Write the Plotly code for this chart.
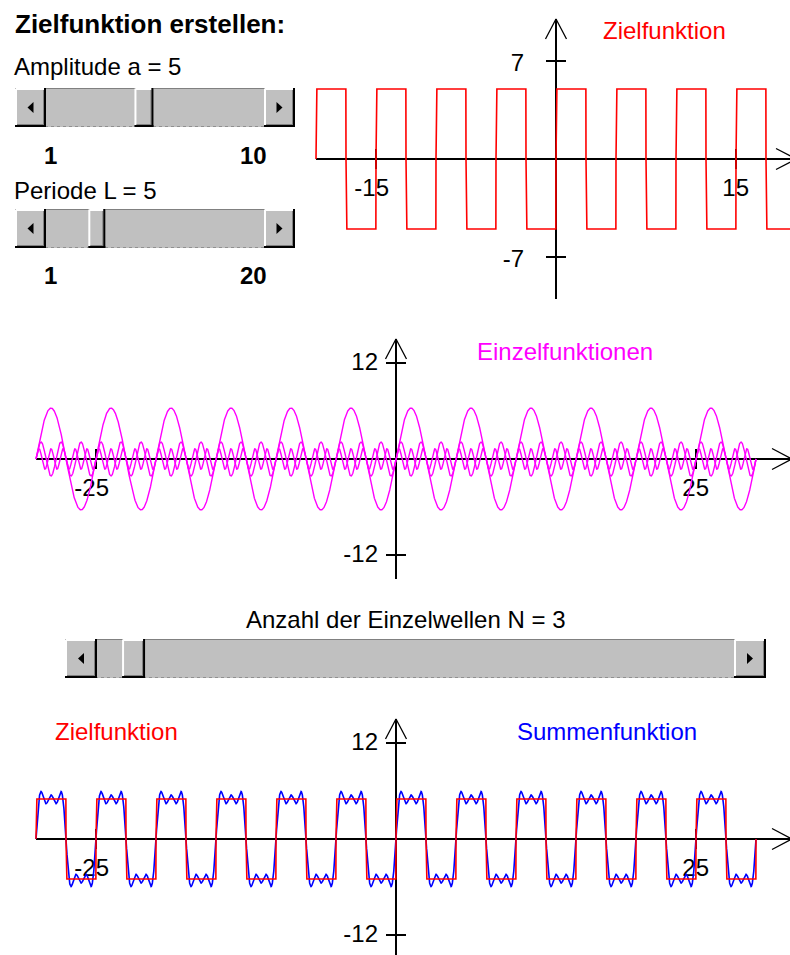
import numpy as np
import plotly.graph_objects as go

W, H = 790, 955

# ---------------- data ----------------
amplitude = 5
amplitude_limits = [1, 10]
period = 5
period_limits = [1, 20]
n_waves = 3
n_limits = [1, 50]

target_x_span = [-20, 20]      # x extent of the top "Zielfunktion" plot
wave_x_span = [-30, 30]        # x extent of the lower two plots
top_x_ticks = [-15, 15]
top_y_ticks = [-7, 7]
mid_x_ticks = [-25, 25]
mid_y_ticks = [-12, 12]
bot_x_ticks = [-25, 25]
bot_y_ticks = [-12, 12]

title_text = "Zielfunktion erstellen:"
amp_label = "Amplitude a = %d" % amplitude
per_label = "Periode L = %d" % period
n_label = "Anzahl der Einzelwellen N = %d" % n_waves

FONT = "Liberation Sans, Arial, sans-serif"
RED, MAG, BLUE = "#ff0000", "#ff00ff", "#0000ff"


def square(x):
    s = np.sin(2 * np.pi * x / period)
    s = np.where(np.abs(s) < 1e-9, 0.0, s)
    return amplitude * np.sign(s)


def harmonic(x, k):
    n = 2 * k - 1
    return 4 * amplitude / (np.pi * n) * np.sin(2 * np.pi * n * x / period)


def grid(span):
    return np.linspace(span[0], span[1], int(round((span[1] - span[0]) * 96)) + 1)


# panel geometry: pixel origin, pixel/unit scales, pixel box
panels = {
    "top": dict(xa="x", ya="y", ox=556, oy=159, sx=12, sy=14, box=(300, 8, 790, 308)),
    "mid": dict(xa="x2", ya="y2", ox=396, oy=459, sx=12, sy=8, box=(0, 330, 790, 595)),
    "bot": dict(xa="x3", ya="y3", ox=396, oy=839, sx=12, sy=8, box=(0, 700, 790, 955)),
}

fig = go.Figure()
layout_axes = {}
for i, key in enumerate(["top", "mid", "bot"]):
    p = panels[key]
    x0, y0, x1, y1 = p["box"]
    sfx = "" if i == 0 else str(i + 1)
    layout_axes["xaxis" + sfx] = dict(domain=[x0 / W, x1 / W],
                                      range=[(x0 - p["ox"]) / p["sx"], (x1 - p["ox"]) / p["sx"]],
                                      visible=False, fixedrange=True,
                                      anchor="y" + sfx)
    layout_axes["yaxis" + sfx] = dict(domain=[1 - y1 / H, 1 - y0 / H],
                                      range=[(p["oy"] - y1) / p["sy"], (p["oy"] - y0) / p["sy"]],
                                      visible=False, fixedrange=True,
                                      anchor="x" + sfx)


def add_axes(p, x_start, x_tip, y_bottom, y_tip, xticks, yticks, ylab_off, ylab_shift):
    sx, sy = p["sx"], p["sy"]
    th = 10
    xs = [x_start, x_tip, None, 0, 0, None]
    ys = [0, 0, None, y_bottom, y_tip, None]
    for t in xticks:
        xs += [t, t, None]
        ys += [-th / sy, th / sy, None]
    for t in yticks:
        xs += [-th / sx, th / sx, None]
        ys += [t, t, None]
    fig.add_trace(go.Scatter(x=xs, y=ys, mode="lines", xaxis=p["xa"], yaxis=p["ya"],
                             line=dict(color="black", width=2), hoverinfo="skip"))
    ah, al = 10.5, 20
    axs = [-ah / sx, 0, ah / sx, None, x_tip - al / sx, x_tip, x_tip - al / sx]
    ays = [y_tip - al / sy, y_tip, y_tip - al / sy, None, ah / sy, 0, -ah / sy]
    fig.add_trace(go.Scatter(x=axs, y=ays, mode="lines", xaxis=p["xa"], yaxis=p["ya"],
                             line=dict(color="black", width=1.3), hoverinfo="skip"))
    # tick labels as text traces (so curves can draw over them)
    lx = [t + 13 / sx for t in xticks] + [-ylab_off / sx for _ in yticks]
    ly = [-31 / sy for _ in xticks] + [t - ylab_shift / sy for t in yticks]
    lt = [str(t) for t in xticks] + [str(t) for t in yticks]
    fig.add_trace(go.Scatter(x=lx, y=ly, text=lt, mode="text", textposition="middle left",
                             textfont=dict(family=FONT, size=24, color="black"),
                             xaxis=p["xa"], yaxis=p["ya"], cliponaxis=False, hoverinfo="skip"))


# ---- top panel: Zielfunktion ----
pt = panels["top"]
add_axes(pt, target_x_span[0], 20, -10, 10, top_x_ticks, top_y_ticks, 32, 4)
xt = grid(target_x_span)
fig.add_trace(go.Scatter(x=xt, y=square(xt), mode="lines", xaxis="x", yaxis="y",
                         line=dict(color=RED, width=1.6), hoverinfo="skip"))

# ---- middle panel: Einzelfunktionen ----
pm = panels["mid"]
add_axes(pm, wave_x_span[0], 33, -15, 15, mid_x_ticks, mid_y_ticks, 18, 1)
xw = grid(wave_x_span)
for k in range(1, n_waves + 1):
    fig.add_trace(go.Scatter(x=xw, y=harmonic(xw, k), mode="lines", xaxis="x2", yaxis="y2",
                             line=dict(color=MAG, width=1.4), hoverinfo="skip"))

# ---- bottom panel: Summenfunktion + Zielfunktion ----
pb = panels["bot"]
add_axes(pb, wave_x_span[0], 33, -15, 15, bot_x_ticks, bot_y_ticks, 18, 1)
total = sum(harmonic(xw, k) for k in range(1, n_waves + 1))
fig.add_trace(go.Scatter(x=xw, y=total, mode="lines", xaxis="x3", yaxis="y3",
                         line=dict(color=BLUE, width=1.6), hoverinfo="skip"))
fig.add_trace(go.Scatter(x=xw, y=square(xw), mode="lines", xaxis="x3", yaxis="y3",
                         line=dict(color=RED, width=1.6), hoverinfo="skip"))

# ---------------- scrollbars (drawn as shapes) ----------------
shapes = []


def P(x):
    return x / W


def Q(y):
    return 1 - y / H


def rect(x0, y0, x1, y1, fill):
    shapes.append(dict(type="rect", xref="paper", yref="paper", x0=P(x0), x1=P(x1),
                       y0=Q(y1), y1=Q(y0), fillcolor=fill, line=dict(width=0), layer="above"))


def seg(x0, y0, x1, y1, color, w, dash="solid"):
    shapes.append(dict(type="line", xref="paper", yref="paper", x0=P(x0), x1=P(x1),
                       y0=Q(y0), y1=Q(y1), line=dict(color=color, width=w, dash=dash),
                       layer="above"))


def bevel(x0, y0, x1, y1):
    rect(x0, y0, x1, y1, "#c0c0c0")
    seg(x0 + 1, y0 + 1, x1 - 2, y0 + 1, "#ffffff", 2)
    seg(x0 + 1, y0 + 1, x0 + 1, y1 - 2, "#ffffff", 2)
    seg(x0 + 2, y1 - 2.5, x1 - 2, y1 - 2.5, "#808080", 1)
    seg(x1 - 2.5, y0 + 2, x1 - 2.5, y1 - 2, "#808080", 1)
    seg(x0, y1 - 1, x1, y1 - 1, "#000000", 2)
    seg(x1 - 1, y0, x1 - 1, y1, "#000000", 2)


def tri(cx, cy, direction):
    if direction < 0:
        path = "M %f,%f L %f,%f L %f,%f Z" % (P(cx - 3), Q(cy), P(cx + 3), Q(cy - 5.5), P(cx + 3), Q(cy + 5.5))
    else:
        path = "M %f,%f L %f,%f L %f,%f Z" % (P(cx + 3), Q(cy), P(cx - 3), Q(cy - 5.5), P(cx - 3), Q(cy + 5.5))
    shapes.append(dict(type="path", xref="paper", yref="paper", path=path,
                       fillcolor="black", line=dict(width=0), layer="above"))


def scrollbar(x0, y0, x1, y1, btn, thumb_w, value, limits):
    rect(x0, y0, x1, y1, "#c0c0c0")
    seg(x0, y0 + 0.5, x1, y0 + 0.5, "#808080", 1)
    seg(x0, y1 - 0.5, x1, y1 - 0.5, "#909090", 1, "dot")
    tl, tr = x0 + btn, x1 - btn
    t0 = tl + (value - limits[0]) / (limits[1] - limits[0]) * (tr - tl - thumb_w)
    bevel(x0, y0, x0 + btn, y1)
    bevel(x1 - btn, y0, x1, y1)
    bevel(t0, y0, t0 + thumb_w, y1)
    cy = (y0 + y1) / 2
    tri(x0 + btn / 2, cy, -1)
    tri(x1 - btn / 2, cy, 1)


scrollbar(15, 88, 295, 127, 31, 19, amplitude, amplitude_limits)
scrollbar(15, 209, 295, 248, 31, 17, period, period_limits)
scrollbar(65, 639, 766, 678, 32, 23, n_waves, n_limits)

# ---------------- texts ----------------
ann = []


def text(s, x, y, size=24, color="black", bold=False, anchor="left"):
    ann.append(dict(text=("<b>%s</b>" % s) if bold else s, x=P(x), y=Q(y), xref="paper", yref="paper",
                    xanchor=anchor, yanchor="middle", showarrow=False,
                    font=dict(family=FONT, size=size, color=color)))


text(title_text, 13, 24, size=26, bold=True)
text(amp_label, 12, 67)
text(str(amplitude_limits[0]), 50, 155, bold=True, anchor="center")
text(str(amplitude_limits[1]), 253, 155, bold=True, anchor="center")
text(per_label, 12, 190)
text(str(period_limits[0]), 50, 275, bold=True, anchor="center")
text(str(period_limits[1]), 253, 275, bold=True, anchor="center")
text("Zielfunktion", 601, 30, color=RED)
text("Einzelfunktionen", 475, 351, color=MAG)
text(n_label, 406, 619, anchor="center")
text("Zielfunktion", 53, 731, color=RED)
text("Summenfunktion", 515, 731, color=BLUE)

fig.update_layout(width=W, height=H, margin=dict(l=0, r=0, t=0, b=0, pad=0),
                  paper_bgcolor="white", plot_bgcolor="rgba(0,0,0,0)",
                  showlegend=False, shapes=shapes, annotations=ann, **layout_axes)

fig.write_html("out.html", config={"displayModeBar": False},
               post_script="document.body.style.margin='0';document.body.style.padding='0';"
                           "document.body.style.overflow='hidden';")
